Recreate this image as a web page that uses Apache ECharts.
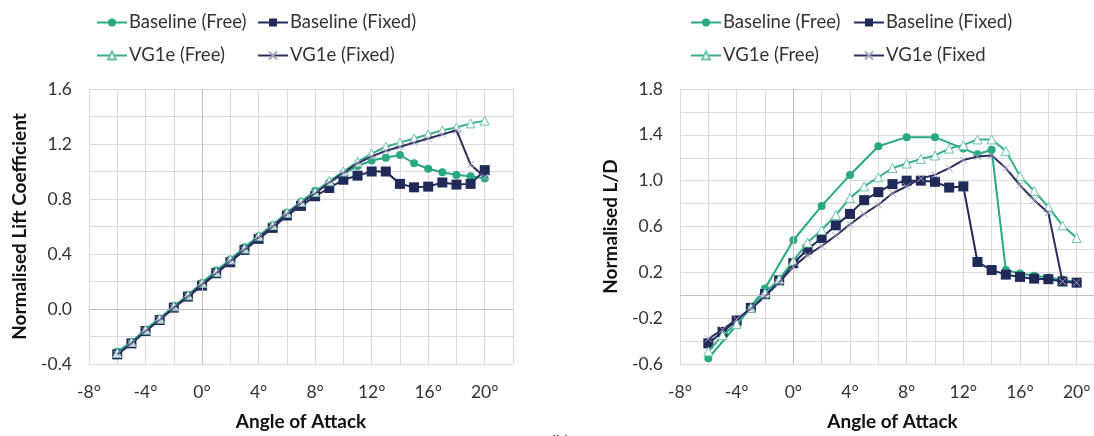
<!DOCTYPE html>
<html>
<head>
<meta charset="utf-8">
<script src="https://cdn.jsdelivr.net/npm/echarts@6/dist/echarts.min.js"></script>
<style>
  html, body { margin: 0; padding: 0; background: #fff; overflow: hidden; width: 1094px; height: 436px; }
  #chart { width: 1106px; height: 436px; }
</style>
</head>
<body>
<div id="chart"></div>
<script>
// ---------- Data ----------
// Left chart: Normalised Lift Coefficient
const aoaLift = [-6,-5,-4,-3,-2,-1,0,1,2,3,4,5,6,7,8,9,10,11,12,13,14,15,16,17,18,19,20];
const liftBaseFree  = [-0.31,-0.24,-0.15,-0.07,0.02,0.10,0.19,0.28,0.36,0.45,0.53,0.61,0.70,0.78,0.86,0.92,0.98,1.04,1.08,1.10,1.12,1.06,1.02,0.995,0.975,0.965,0.95];
const liftBaseFixed = [-0.33,-0.25,-0.16,-0.08,0.01,0.09,0.17,0.26,0.34,0.43,0.51,0.59,0.68,0.75,0.82,0.88,0.94,0.97,1.00,1.00,0.91,0.885,0.89,0.92,0.905,0.91,1.01];
const liftVgFree    = [-0.32,-0.24,-0.15,-0.07,0.02,0.10,0.19,0.27,0.36,0.44,0.53,0.61,0.70,0.78,0.85,0.93,1.00,1.07,1.13,1.18,1.21,1.24,1.27,1.30,1.32,1.35,1.37];
const liftVgFixed   = [-0.33,-0.25,-0.16,-0.08,0.01,0.09,0.18,0.26,0.35,0.43,0.52,0.60,0.69,0.77,0.84,0.92,0.99,1.06,1.11,1.15,1.18,1.21,1.24,1.27,1.30,1.05,0.96];

// Right chart: Normalised L/D
const aoaLDBaseFree = [-6,-4,-2,0,2,4,6,8,10,12,13,14,15,16,17,18,19,20];
const ldBaseFree    = [-0.55,-0.26,0.06,0.48,0.78,1.05,1.30,1.38,1.38,1.28,1.23,1.27,0.22,0.19,0.17,0.155,0.135,0.115];
const aoaLD = [-6,-5,-4,-3,-2,-1,0,1,2,3,4,5,6,7,8,9,10,11,12,13,14,15,16,17,18,19,20];
const ldBaseFixed = [-0.42,-0.32,-0.22,-0.11,0.01,0.13,0.28,0.40,0.50,0.61,0.71,0.83,0.90,0.97,1.00,1.00,0.99,0.94,0.95,0.29,0.22,0.18,0.16,0.145,0.14,0.12,0.11];
const ldVgFree    = [-0.49,-0.35,-0.25,-0.11,0.02,0.14,0.30,0.46,0.57,0.70,0.85,0.95,1.03,1.11,1.15,1.19,1.22,1.28,1.31,1.36,1.36,1.26,1.04,0.91,0.77,0.61,0.50];
const ldVgFixed   = [-0.38,-0.30,-0.21,-0.12,-0.01,0.11,0.25,0.35,0.43,0.52,0.62,0.71,0.79,0.89,0.95,1.02,1.05,1.11,1.18,1.21,1.22,1.11,0.96,0.83,0.72,0.12,0.11];

// Labels
const namesLeft  = ['Baseline (Free)', 'Baseline (Fixed)', 'VG1e (Free)', 'VG1e (Fixed)'];
const namesRight = ['Baseline (Free)', 'Baseline (Fixed)', 'VG1e (Free)', 'VG1e (Fixed'];
const xTitle = 'Angle of Attack';
const yTitleLeft = 'Normalised Lift Coefficient';
const yTitleRight = 'Normalised L/D';

// ---------- Styles ----------
const FONT = 'Lato';
const TEAL = '#2aa882';
const TEAL2 = '#36ad8b';
const NAVY = '#1f2a58';
const NAVY2 = '#2f2e5f';
const CROSS = 'path://M0,0 L10,10 M10,0 L0,10';

const zip = (xs, ys) => xs.map((x, i) => [x, ys[i]]);

function styleFor(k) {
  if (k === 0) return { symbol: 'circle', symbolSize: 8, lineStyle: { color: TEAL, width: 2 }, itemStyle: { color: TEAL, borderWidth: 0 } };
  if (k === 1) return { symbol: 'rect', symbolSize: 10, lineStyle: { color: NAVY, width: 2 }, itemStyle: { color: NAVY, borderWidth: 0 } };
  if (k === 2) return { symbol: 'triangle', symbolSize: 9, lineStyle: { color: TEAL2, width: 2 }, itemStyle: { color: '#ffffff', borderColor: '#6cc4a6', borderWidth: 1 } };
  return { symbol: CROSS, symbolSize: 7, lineStyle: { color: NAVY2, width: 2 }, itemStyle: { color: 'rgba(0,0,0,0)', borderColor: '#a3a4c4', borderWidth: 1 } };
}

function xAxisFor(gridIndex) {
  return {
    type: 'value', gridIndex, min: -8, max: 22, interval: 4,
    name: xTitle, nameLocation: 'middle', nameGap: 48,
    nameTextStyle: { fontFamily: FONT, fontSize: 19, fontWeight: 'bold', color: '#111' },
    axisLine: { show: false }, axisTick: { show: false },
    axisLabel: { fontFamily: FONT, fontSize: 17.5, color: '#333', margin: 19, showMaxLabel: false, formatter: v => v + '°' },
    splitLine: { show: true, lineStyle: { color: '#d9d9d9', width: 1 } },
    minorTick: { show: false, splitNumber: 2 },
    minorSplitLine: { show: true, lineStyle: { color: '#d9d9d9', width: 1 } }
  };
}
function yAxisFor(gridIndex, min, max, name) {
  return {
    type: 'value', gridIndex, min, max, interval: 0.4,
    name, nameLocation: 'middle', nameGap: 60, nameRotate: 90,
    nameTextStyle: { fontFamily: FONT, fontSize: 19, fontWeight: 'bold', color: '#111' },
    axisLine: { show: false }, axisTick: { show: false },
    axisLabel: { fontFamily: FONT, fontSize: 17.5, color: '#333', margin: 17, formatter: v => v.toFixed(1) },
    splitLine: { show: true, lineStyle: { color: '#d9d9d9', width: 1 } },
    minorTick: { show: false, splitNumber: 2 },
    minorSplitLine: { show: true, lineStyle: { color: '#d9d9d9', width: 1 } }
  };
}

function zeroSeries(idx) {
  return {
    type: 'line', xAxisIndex: idx, yAxisIndex: idx, data: [], z: 1, silent: true,
    markLine: {
      silent: true, symbol: 'none', label: { show: false }, animation: false,
      lineStyle: { color: '#bfbfbf', width: 1, type: 'solid' },
      data: [{ xAxis: 0 }, { yAxis: 0 }]
    }
  };
}

const series = [zeroSeries(0), zeroSeries(1)];
const leftSets = [[aoaLift, liftBaseFree], [aoaLift, liftBaseFixed], [aoaLift, liftVgFree], [aoaLift, liftVgFixed]];
const rightSets = [[aoaLDBaseFree, ldBaseFree], [aoaLD, ldBaseFixed], [aoaLD, ldVgFree], [aoaLD, ldVgFixed]];
leftSets.forEach((s, k) => series.push(Object.assign({ type: 'line', name: namesLeft[k], xAxisIndex: 0, yAxisIndex: 0, z: 2 + k, data: zip(s[0], s[1]) }, styleFor(k))));
rightSets.forEach((s, k) => series.push(Object.assign({ type: 'line', name: namesRight[k], xAxisIndex: 1, yAxisIndex: 1, z: 2 + k, data: zip(s[0], s[1]) }, styleFor(k))));

function legendAt(name, left, top) {
  return {
    data: [name], left, top, itemWidth: 30, itemHeight: 10, itemGap: 0,
    textStyle: { fontFamily: FONT, fontSize: 18.5, color: '#333', padding: [0, 0, 0, -3] },
    selectedMode: false
  };
}
const legends = [
  legendAt(namesLeft[0], 91, 8), legendAt(namesLeft[1], 252, 8),
  legendAt(namesLeft[2], 91, 41), legendAt(namesLeft[3], 252, 41),
  legendAt(namesRight[0], 685, 8), legendAt(namesRight[1], 848, 8),
  legendAt(namesRight[2], 685, 41), legendAt(namesRight[3], 848, 41)
];

const chart = echarts.init(document.getElementById('chart'), null, { renderer: 'canvas' });
chart.setOption({
  animation: false,
  backgroundColor: '#ffffff',
  title: { text: '(b)', left: 546, top: 429, textStyle: { fontFamily: FONT, fontSize: 17, fontWeight: 'normal', color: '#333' } },
  legend: legends,
  grid: [
    { left: 89, top: 89, width: 424, height: 275 },
    { left: 680, top: 89, width: 425, height: 275 }
  ],
  xAxis: [xAxisFor(0), xAxisFor(1)],
  yAxis: [yAxisFor(0, -0.4, 1.6, yTitleLeft), yAxisFor(1, -0.6, 1.8, yTitleRight)],
  series
});
</script>
</body>
</html>
